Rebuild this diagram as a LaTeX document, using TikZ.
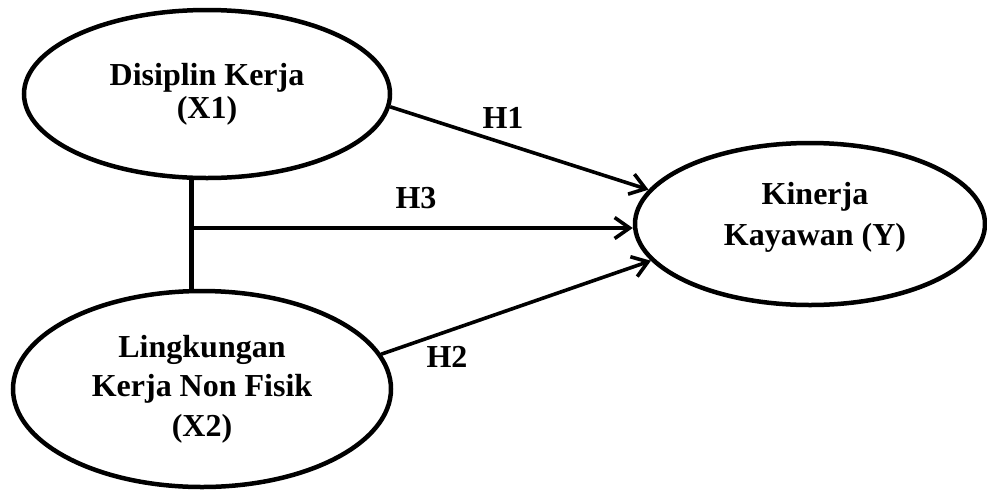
\documentclass[tikz,border=0pt]{standalone}
\usepackage{fontspec}
\setmainfont{Liberation Serif}
\usetikzlibrary{shapes.geometric,arrows.meta}
\tikzset{
  var/.style={ellipse,draw,line width=4.5pt,inner sep=0pt,align=center,
    font=\fontsize{32}{33}\selectfont\bfseries},
  conn/.style={line width=3.6pt,-{Straight Barb[length=15pt,width=21pt,line width=3.6pt]}},
  hlab/.style={inner sep=0pt,font=\fontsize{32}{33}\selectfont\bfseries}
}
\begin{document}
\begin{tikzpicture}[x=1pt,y=-1pt]
\useasboundingbox (0,0) rectangle (987,491);
\node[var,minimum width=366pt,minimum height=168pt] (e1) at (207,94)
  {Disiplin Kerja\\(X1)};
\node[var,minimum width=378pt,minimum height=196pt,
  font=\fontsize{32}{39.5}\selectfont\bfseries] (e2) at (202,389)
  {Lingkungan\\Kerja Non Fisik\\(X2)};
\node[var,minimum width=350pt,minimum height=162pt] (e3) at (810,224) {};
\node[inner sep=0pt,align=center,font=\fontsize{32}{41}\selectfont\bfseries]
  (t3) at (815,217) {Kinerja\\Kayawan (Y)};
\coordinate (j) at (191,228);
\draw[line width=5pt] (j |- e1.south) -- (j |- e2.north);
\draw[conn] (j) -- (j -| e3.west);
\draw[conn] (e1.-4) -- (e3.168);
\draw[conn] (e2.11) -- (e3.193);
\node[hlab] (h1) at (503,118) {H1};
\node[hlab] (h3) at (416,198) {H3};
\node[hlab] (h2) at (447,357) {H2};
\end{tikzpicture}
\end{document}
